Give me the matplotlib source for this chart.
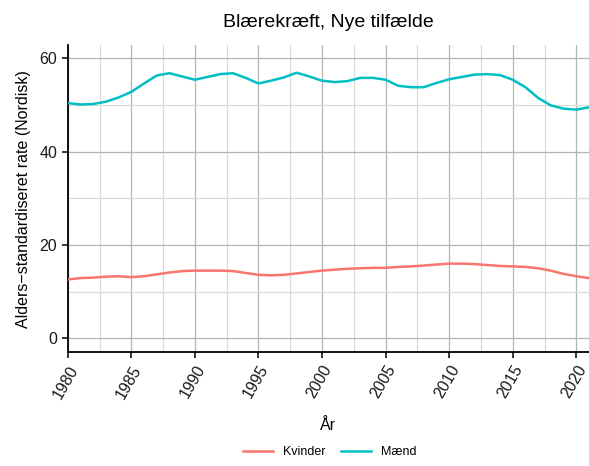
import numpy as np
import matplotlib
matplotlib.use('Agg')
import matplotlib.pyplot as plt
from matplotlib.ticker import MultipleLocator

plt.rcParams['font.family'] = ['Liberation Sans', 'DejaVu Sans']

# data
years = list(range(1980, 2022))
kvinder = [12.6, 12.9, 13.0, 13.2, 13.3, 13.1, 13.3, 13.7, 14.1, 14.4,
           14.5, 14.5, 14.5, 14.4, 14.0, 13.6, 13.5, 13.6, 13.9, 14.2,
           14.5, 14.7, 14.9, 15.0, 15.1, 15.1, 15.3, 15.4, 15.6, 15.8,
           16.0, 16.0, 15.9, 15.7, 15.5, 15.4, 15.3, 15.0, 14.5, 13.8,
           13.3, 12.9]
maend = [50.4, 50.1, 50.2, 50.7, 51.6, 52.8, 54.6, 56.3, 56.8, 56.1,
         55.4, 56.0, 56.6, 56.8, 55.8, 54.6, 55.2, 55.9, 56.9, 56.1,
         55.2, 54.9, 55.1, 55.8, 55.8, 55.4, 54.1, 53.8, 53.8, 54.7,
         55.5, 56.0, 56.5, 56.6, 56.4, 55.4, 53.8, 51.5, 49.9, 49.2,
         49.0, 49.5]
x_ticks = [1980, 1985, 1990, 1995, 2000, 2005, 2010, 2015, 2020]
y_ticks = [0, 20, 40, 60]

fig = plt.figure(figsize=(5.89, 4.66), dpi=100)
ax = fig.add_axes([0.115, 0.244, 0.885, 0.659])

ax.plot(years, kvinder, color='#F8766D', lw=1.8, label='Kvinder', zorder=3)
ax.plot(years, maend, color='#00BFC4', lw=1.8, label='Mænd', zorder=3)

ax.set_xlim(1980, 2021)
ax.set_ylim(-3, 62.8)
ax.set_xticks(x_ticks)
ax.set_yticks(y_ticks)
ax.xaxis.set_minor_locator(MultipleLocator(2.5))
ax.yaxis.set_minor_locator(MultipleLocator(10))
ax.grid(True, which='major', color='#B5B5B5', lw=0.9)
ax.grid(True, which='minor', color='#DADADA', lw=0.9)
ax.set_axisbelow(True)

for s in ['top', 'right']:
    ax.spines[s].set_visible(False)
for s in ['left', 'bottom']:
    ax.spines[s].set_linewidth(1.3)
    ax.spines[s].set_color('black')
ax.tick_params(which='major', length=4, width=1.1, color='black',
               labelsize=11.5, labelcolor='#1a1a1a')
ax.tick_params(which='minor', length=0)
plt.setp(ax.get_xticklabels(), rotation=60, ha='right', rotation_mode='anchor')

ax.set_title('Blærekræft, Nye tilfælde', fontsize=14, pad=13)
ax.set_xlabel('År', fontsize=11.5, labelpad=12)
ax.set_ylabel('Alders\u2212standardiseret rate (Nordisk)', fontsize=11.5, labelpad=6)

fig.legend(loc='lower center', bbox_to_anchor=(0.56, -0.007), ncol=2,
           frameon=False, fontsize=9, handlelength=2.4, columnspacing=1.2)

fig.savefig('out.png', dpi=100)
